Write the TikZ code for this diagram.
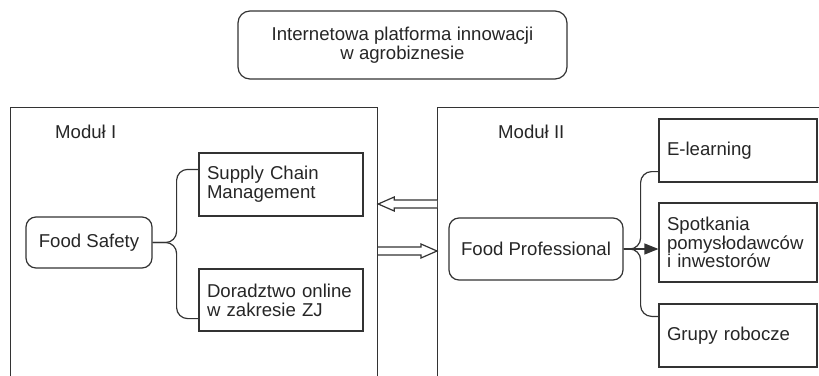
\documentclass[tikz,border=0pt]{standalone}
\usepackage{fontspec}
\setmainfont{Liberation Sans}
\usetikzlibrary{calc,arrows.meta}

\begin{document}
\begin{tikzpicture}[x=1pt,y=-1pt,
  every node/.style={text=black!85,font=\fontsize{18.6}{18.8}\selectfont},
  modbox/.style={draw=black!80,line width=1.2pt,anchor=north west,inner sep=0,minimum height=300pt},
  rbox/.style={draw=black!80,line width=1.2pt,rounded corners=10pt,align=center,inner sep=0},
  sbox/.style={draw=black!80,line width=1.2pt,align=left,inner xsep=8pt,inner ysep=0,text width=#1},
  brace/.style={draw=black!80,line width=1.2pt,rounded corners=11pt},
  hollow/.style={draw=black!80,line width=1.2pt,fill=white,line join=miter}]
\useasboundingbox (0,0) rectangle (819,375);
\clip (0,0) rectangle (819,375);
\node[rbox,rounded corners=12pt,minimum width=329pt,minimum height=68pt] (top) at (402.5,45) {Internetowa platforma innowacji\\w agrobiznesie};
\node[modbox,minimum width=367pt] (m1) at (10,107) {};
\node[modbox,minimum width=400pt] (m2) at (437,107) {};
\node[anchor=west,inner sep=0] (t1) at (55,132) {Moduł I};
\node[anchor=west,inner sep=0] (t2) at (498,132) {Moduł II};
\node[rbox,minimum width=126pt,minimum height=51pt] (fs) at (89,242.5) {Food Safety};
\node[sbox=148pt,minimum height=63pt] (sc) at (281,184.5) {Supply Chain\\Management};
\node[sbox=148pt,minimum height=62pt] (dz) at (281,300) {Doradztwo online\\w zakresie ZJ};
\node[rbox,minimum width=174pt,minimum height=62pt] (fp) at (536,249) {Food Professional};
\node[sbox=142pt,minimum height=63pt] (el) at (738,150.5) {E-learning};
\node[sbox=142pt,minimum height=79pt] (sp) at (738,242.5) {Spotkania\\pomysłodawców\\i inwestorów};
\node[sbox=142pt,minimum height=63pt] (gr) at (738,335.5) {Grupy robocze};
\coordinate (lb) at ($(fs.east)+(24,0)$);
\draw[brace] ($(sc.north west)+(0,17)$) -| (lb) -- (fs.east);
\draw[brace] ($(dz.south west)+(0,-13)$) -| (lb) -- (fs.east);
\coordinate (rb) at ($(fp.east)+(17,0)$);
\draw[brace] ($(el.south west)+(0,-11)$) -| (rb) -- (fp.east);
\draw[brace] ($(gr.north west)+(0,13)$) -| (rb) -- (fp.east);
\draw[draw=black!80,line width=1.2pt,-{Triangle[length=14pt,width=11pt]}] (fp.east) -- (fp.east -| sp.west);
\coordinate (ua) at (m1.east |- 0,204);
\coordinate (da) at (m2.west |- 0,251);
\draw[hollow] (m2.west |- 0,200) -- ($(ua)+(16,-4)$) -- ($(ua)+(16,-7)$) -- (ua) -- ($(ua)+(16,7)$) -- ($(ua)+(16,4)$) -- (m2.west |- 0,208);
\draw[hollow] (m1.east |- 0,247) -- ($(da)+(-16,-4)$) -- ($(da)+(-16,-7)$) -- (da) -- ($(da)+(-16,7)$) -- ($(da)+(-16,4)$) -- (m1.east |- 0,255);
\end{tikzpicture}
\end{document}
